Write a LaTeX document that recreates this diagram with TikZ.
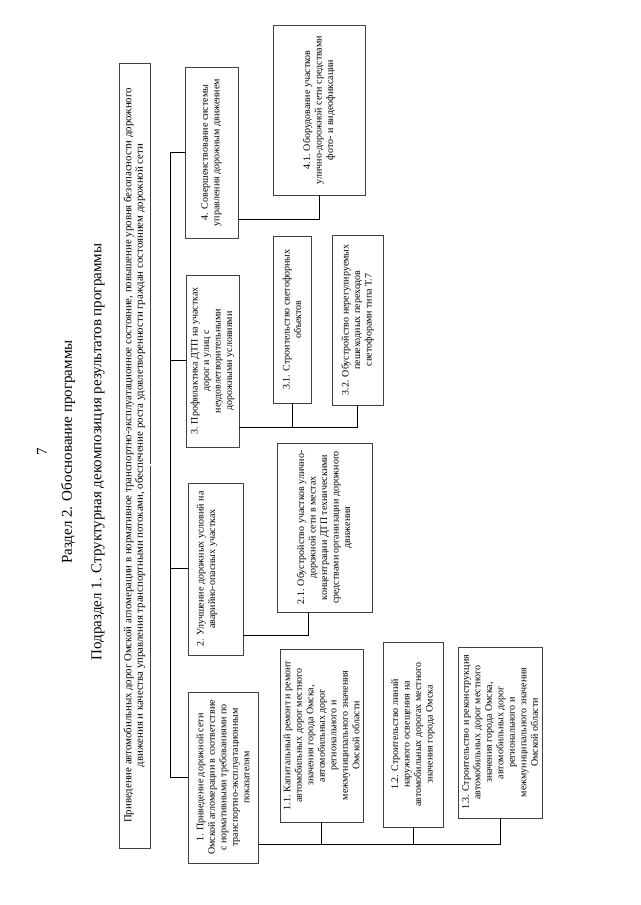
\documentclass[tikz,border=0pt]{standalone}
\usepackage{fontspec}
\setmainfont{Liberation Serif}
\begin{document}
\begin{tikzpicture}[x=1pt,y=1pt,
  box/.style={rotate=90, draw=black!75, line width=0.6pt, align=center, inner sep=1pt,
    font=\fontsize{10}{11.5}\selectfont},
  lbl/.style={rotate=90, align=center, inner sep=1pt, font=\fontsize{10}{11.5}\selectfont},
  conn/.style={line width=1pt, draw=black},
  ttl/.style={rotate=90, font=\fontsize{15}{17}\selectfont}]
\useasboundingbox (0,0) rectangle (640,905);
% titles
\node[ttl] (pg) at (42,453) {7};
\node[ttl] (razd) at (68,453) {Раздел 2. Обоснование программы};
\node[ttl] (podr) at (98,453) {Подраздел 1. Структурная декомпозиция результатов программы};
% main box
\node[box, minimum width=785, minimum height=31, font=\fontsize{10.8}{11.5}\selectfont] (main) at (134.5,449.5)
 {Приведение автомобильных дорог Омской агломерации в нормативное транспортно-эксплуатационное состояние, повышение уровня безопасности дорожного\\
  движения и качества управления транспортными потоками, обеспечение роста удовлетворенности граждан состоянием дорожной сети};
% level 1
\node[box, minimum width=171, minimum height=70] (b1) at (223,127.5)
 {1. Приведение дорожной сети\\Омской агломерации в соответствие\\с нормативными требованиями по\\транспортно-эксплуатационным\\показателям};
\node[box, minimum width=172, minimum height=55] (b2) at (215.5,336) {};
\node[lbl, anchor=north, yshift=-8pt] (b2t) at (b2.north)
 {2. Улучшение дорожных условий на\\аварийно-опасных участках};
\node[box, minimum width=172, minimum height=53] (b3) at (212.5,544)
 {3. Профилактика ДТП на участках\\дорог и улиц с\\неудовлетворительными\\дорожными условиями};
\node[box, minimum width=171, minimum height=53] (b4) at (211.5,752.5)
 {4. Совершенствование системы\\управления дорожным движением};
% level 2
\node[box, minimum width=173, minimum height=83] (b11) at (321.5,169.5)
 {1.1. Капитальный ремонт и ремонт\\автомобильных дорог местного\\значения города Омска,\\автомобильных дорог\\регионального и\\межмуниципального значения\\Омской области};
\node[box, minimum width=185, minimum height=60] (b12) at (413,170.5)
 {1.2. Строительство линий\\наружного освещения на\\автомобильных дорогах местного\\значения города Омска};
\node[box, minimum width=171, minimum height=84] (b13) at (500,172.5)
 {1.3. Строительство и реконструкция\\автомобильных дорог местного\\значения города Омска,\\автомобильных дорог\\регионального и\\межмуниципального значения\\Омской области};
\node[box, minimum width=169, minimum height=95] (b21) at (324.5,377.5)
 {2.1. Обустройство участков улично-\\дорожной сети в местах\\концентрации ДТП техническими\\средствами организации дорожного\\движения};
\node[box, minimum width=167, minimum height=38] (b31) at (292,585.5)
 {3.1. Строительство светофорных\\объектов};
\node[box, minimum width=170, minimum height=51] (b32) at (357.5,585)
 {3.2. Обустройство нерегулируемых\\пешеходных переходов\\светофорами типа Т.7};
\node[box, minimum width=170, minimum height=92] (b41) at (319,795)
 {4.1. Оборудование участков\\улично-дорожной сети средствами\\фото- и видеофиксации};
% connectors
\coordinate (bj) at (170,440);
\draw[line width=0.7pt, double, double distance=1.2pt] (main.south |- bj) -- (bj);
\draw[conn] (bj |- b1.north) -- (bj |- b4.north);
\foreach \b in {b1,b2,b3,b4} \draw[conn] (bj |- \b.north) -- (\b.north);
\coordinate (r1) at (0,60);
\draw[conn] (b1.south |- r1) -- (b13.west |- r1);
\foreach \b in {b11,b12,b13} \draw[conn] (\b.west |- r1) -- (\b.west);
\coordinate (r2) at (308,269);
\draw[conn] (b2.south |- r2) -- (r2) -- (r2 |- b21.west);
\coordinate (r3) at (0,477);
\draw[conn] (b3.south |- r3) -- (b32.west |- r3);
\foreach \b in {b31,b32} \draw[conn] (\b.west |- r3) -- (\b.west);
\coordinate (r4) at (0,685);
\draw[conn] (b4.south |- r4) -- (b41.west |- r4) -- (b41.west);
\end{tikzpicture}
\end{document}
